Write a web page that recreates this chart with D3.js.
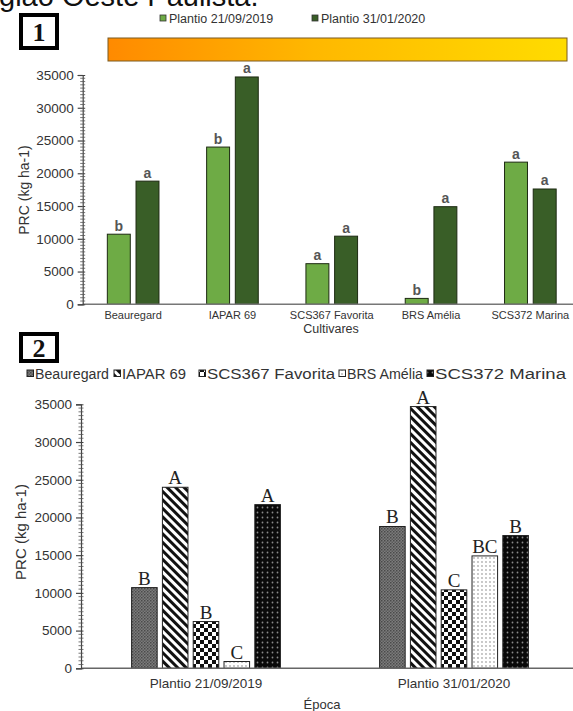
<!DOCTYPE html>
<html>
<head>
<meta charset="utf-8">
<script src="https://cdn.jsdelivr.net/npm/d3@7"></script>
<style>
  html, body { margin: 0; padding: 0; background: #fff; }
  svg { display: block; font-family: "Liberation Sans", Arial, sans-serif; }
  .serif { font-family: "Liberation Serif", "Times New Roman", serif; }
</style>
</head>
<body>
<svg id="chart" width="573" height="711"></svg>
<script>
// ---------------- DATA ----------------
const cultivars = ["Beauregard", "IAPAR 69", "SCS367 Favorita", "BRS Amélia", "SCS372 Marina"];
const plantings = ["Plantio 21/09/2019", "Plantio 31/01/2020"];
const values2019 = [10700, 24000, 6200, 900, 21700];
const values2020 = [18800, 34700, 10400, 14900, 17600];
// letters: panel 1 compares plantings within cultivar, panel 2 compares cultivars within planting
const letters1_2019 = ["b", "b", "a", "b", "a"];
const letters1_2020 = ["a", "a", "a", "a", "a"];
const letters2_2019 = ["B", "A", "B", "C", "A"];
const letters2_2020 = ["B", "A", "C", "BC", "B"];
const yTicks = [0, 5000, 10000, 15000, 20000, 25000, 30000, 35000];
const yTitle = "PRC (kg ha-1)";
const xTitle1 = "Cultivares";
const xTitle2 = "Época";
const headerText = "gião Oeste Paulista.";

// ---------------- SETUP ----------------
const svg = d3.select("#chart");
const defs = svg.append("defs");

const grad = defs.append("linearGradient").attr("id", "orangeGrad")
  .attr("x1", "0%").attr("x2", "100%").attr("y1", "0%").attr("y2", "0%");
grad.append("stop").attr("offset", "0%").attr("stop-color", "#ff8a00");
grad.append("stop").attr("offset", "45%").attr("stop-color", "#ffb800");
grad.append("stop").attr("offset", "100%").attr("stop-color", "#ffdc00");

function pat(id, w, h, build, transform) {
  const p = defs.append("pattern").attr("id", id).attr("patternUnits", "userSpaceOnUse")
    .attr("width", w).attr("height", h);
  if (transform) p.attr("patternTransform", transform);
  build(p);
}
pat("pBeau", 3, 3, p => {
  p.append("rect").attr("width", 3).attr("height", 3).attr("fill", "#7c7c7c");
  p.append("rect").attr("width", 1.5).attr("height", 1.5).attr("fill", "#4a4a4a");
  p.append("rect").attr("x", 1.5).attr("y", 1.5).attr("width", 1.5).attr("height", 1.5).attr("fill", "#5a5a5a");
});
pat("pIapar", 6, 6, p => {
  p.append("rect").attr("width", 6).attr("height", 6).attr("fill", "#fff");
  p.append("rect").attr("width", 3).attr("height", 6).attr("fill", "#111");
}, "rotate(-45)");
pat("pFav", 8, 8, p => {
  p.append("rect").attr("width", 8).attr("height", 8).attr("fill", "#fff");
  p.append("rect").attr("width", 4).attr("height", 4).attr("fill", "#111");
  p.append("rect").attr("x", 4).attr("y", 4).attr("width", 4).attr("height", 4).attr("fill", "#111");
});
pat("pAmel", 4, 4, p => {
  p.append("rect").attr("width", 4).attr("height", 4).attr("fill", "#fff");
  p.append("circle").attr("cx", 2).attr("cy", 2).attr("r", 0.9).attr("fill", "#b0b0b0");
});
pat("pMarina", 5, 5, p => {
  p.append("rect").attr("width", 5).attr("height", 5).attr("fill", "#0a0a0a");
  p.append("circle").attr("cx", 2.5).attr("cy", 2.5).attr("r", 0.9).attr("fill", "#8a8a8a");
});
const cultFill = d3.scaleOrdinal().domain(cultivars)
  .range(["url(#pBeau)", "url(#pIapar)", "url(#pFav)", "url(#pAmel)", "url(#pMarina)"]);
const plantColor = d3.scaleOrdinal().domain(plantings).range(["#6eab45", "#395e27"]);

// header text (cut off at top, as in the source figure)
svg.append("text").attr("x", -1).attr("y", 6).attr("font-size", 29).attr("fill", "#111")
  .text(headerText);

// numbered boxes
function numberBox(x, y, w, h, label) {
  svg.append("rect").attr("x", x).attr("y", y).attr("width", w).attr("height", h)
    .attr("fill", "#fff").attr("stroke", "#000").attr("stroke-width", 4);
  svg.append("text").attr("class", "serif").attr("x", x + w / 2).attr("y", y + h / 2 + 9)
    .attr("text-anchor", "middle")
    .attr("font-weight", "bold").attr("font-size", 26).attr("fill", "#111").text(label);
}
numberBox(21, 15, 36, 33, "1");
numberBox(21, 334, 36, 27, "2");

function yAxisDraw(g, y, x0) {
  const ax = g.append("g").attr("transform", `translate(${x0},0)`);
  ax.call(d3.axisLeft(y).tickValues(yTicks).tickSize(5).tickFormat(d3.format("d")));
  ax.select(".domain").attr("stroke", "#444").attr("stroke-width", 1.2);
  ax.selectAll(".tick line").attr("stroke", "#444").attr("stroke-width", 1.2);
  ax.selectAll(".tick text").attr("font-size", 13.5).attr("fill", "#333")
    .attr("font-family", null).attr("x", -9);
  const minor = d3.range(500, 35000, 500).filter(v => v % 5000 !== 0);
  ax.selectAll(".minor").data(minor).enter().append("line")
    .attr("x1", -2.5).attr("x2", 2.5).attr("y1", d => y(d)).attr("y2", d => y(d))
    .attr("stroke", "#555").attr("stroke-width", 0.8);
  ax.selectAll(".tick").append("line").attr("x1", 0).attr("x2", 2.5).attr("stroke", "#444");
}

// ================= PANEL 1 =================
const p1 = svg.append("g");
const y1 = d3.scaleLinear().domain([0, 35000]).range([304.3, 75]);
const x1 = d3.scaleBand().domain(cultivars).range([83.5, 580]).paddingInner(0.48).paddingOuter(0.24);
const x1s = d3.scaleBand().domain(plantings).range([0, x1.bandwidth()]).paddingInner(0.2);

p1.append("rect").attr("x", 108).attr("y", 38).attr("width", 459).attr("height", 23)
  .attr("fill", "url(#orangeGrad)").attr("stroke", "#7a5a20").attr("stroke-width", 1);

const leg1X = [160, 312];
plantings.forEach((p, i) => {
  p1.append("rect").attr("x", leg1X[i]).attr("y", 15).attr("width", 6).attr("height", 6)
    .attr("fill", plantColor(p)).attr("stroke", "#333").attr("stroke-width", 0.8);
  p1.append("text").attr("x", leg1X[i] + 9).attr("y", 22.5).attr("font-size", 12.5)
    .attr("fill", "#333").text(p);
});

const data1 = [];
cultivars.forEach((c, i) => {
  data1.push({ c, p: plantings[0], v: values2019[i], l: letters1_2019[i] });
  data1.push({ c, p: plantings[1], v: values2020[i], l: letters1_2020[i] });
});

p1.selectAll(".bar1").data(data1).enter().append("rect")
  .attr("x", d => x1(d.c) + x1s(d.p)).attr("width", x1s.bandwidth())
  .attr("y", d => y1(d.v)).attr("height", d => y1(0) - y1(d.v))
  .attr("fill", d => plantColor(d.p)).attr("stroke", "#1d2a12").attr("stroke-width", 1);

p1.selectAll(".lab1").data(data1).enter().append("text")
  .attr("x", d => x1(d.c) + x1s(d.p) + x1s.bandwidth() / 2).attr("y", d => y1(d.v) - 3.5)
  .attr("text-anchor", "middle").attr("font-size", 14).attr("font-weight", "bold").attr("fill", "#555")
  .text(d => d.l);

p1.append("line").attr("x1", 82.7).attr("x2", 573).attr("y1", y1(0)).attr("y2", y1(0))
  .attr("stroke", "#777").attr("stroke-width", 1.5);
yAxisDraw(p1, y1, 82.7);

p1.selectAll(".xl1").data(cultivars).enter().append("text")
  .attr("x", d => x1(d) + x1.bandwidth() / 2).attr("y", 319)
  .attr("text-anchor", "middle").attr("font-size", 11).attr("fill", "#333").text(d => d);
p1.append("text").attr("x", 331).attr("y", 333).attr("text-anchor", "middle")
  .attr("font-size", 12.5).attr("fill", "#333").text(xTitle1);
p1.append("text").attr("transform", "translate(29,190) rotate(-90)").attr("text-anchor", "middle")
  .attr("font-size", 14).attr("fill", "#333").text(yTitle);

// ================= PANEL 2 =================
const p2 = svg.append("g");
const y2 = d3.scaleLinear().domain([0, 35000]).range([668.3, 404.3]);
const x2 = d3.scaleBand().domain(plantings).range([82, 578]).paddingInner(0.4).paddingOuter(0.2);
const x2s = d3.scaleBand().domain(cultivars).range([0, x2.bandwidth()]).paddingInner(0.17);

const leg2X = [27, 114, 199, 339, 427];
const leg2W = [74, 64, 128, 76, 131];
cultivars.forEach((c, i) => {
  p2.append("rect").attr("x", leg2X[i]).attr("y", 370).attr("width", 6.5).attr("height", 6.5)
    .attr("fill", cultFill(c)).attr("stroke", "#222").attr("stroke-width", 1);
  p2.append("text").attr("x", leg2X[i] + 8).attr("y", 379).attr("font-size", 14)
    .attr("fill", "#333").attr("textLength", leg2W[i]).attr("lengthAdjust", "spacingAndGlyphs").text(c);
});

const data2 = [];
plantings.forEach((p, j) => {
  const vals = j === 0 ? values2019 : values2020;
  const labs = j === 0 ? letters2_2019 : letters2_2020;
  cultivars.forEach((c, i) => data2.push({ p, c, v: vals[i], l: labs[i] }));
});

p2.selectAll(".bar2").data(data2).enter().append("rect")
  .attr("x", d => x2(d.p) + x2s(d.c)).attr("width", x2s.bandwidth())
  .attr("y", d => y2(d.v)).attr("height", d => y2(0) - y2(d.v))
  .attr("fill", d => cultFill(d.c)).attr("stroke", "#222").attr("stroke-width", 1);

p2.selectAll(".lab2").data(data2).enter().append("text").attr("class", "serif")
  .attr("x", d => x2(d.p) + x2s(d.c) + x2s.bandwidth() / 2).attr("y", d => y2(d.v) - 3)
  .attr("text-anchor", "middle").attr("font-size", 19)
  .attr("fill", "#222").text(d => d.l);

p2.append("line").attr("x1", 81).attr("x2", 573).attr("y1", y2(0)).attr("y2", y2(0))
  .attr("stroke", "#666").attr("stroke-width", 1.5);
yAxisDraw(p2, y2, 81);

p2.selectAll(".xl2").data(plantings).enter().append("text")
  .attr("x", d => x2(d) + x2.bandwidth() / 2).attr("y", 688)
  .attr("text-anchor", "middle").attr("font-size", 13.5).attr("fill", "#333").text(d => d);
p2.append("text").attr("x", 322).attr("y", 709).attr("text-anchor", "middle")
  .attr("font-size", 13).attr("fill", "#333").text(xTitle2);
p2.append("text").attr("transform", "translate(26,532) rotate(-90)").attr("text-anchor", "middle")
  .attr("font-size", 15).attr("fill", "#333").text(yTitle);
</script>
</body>
</html>
